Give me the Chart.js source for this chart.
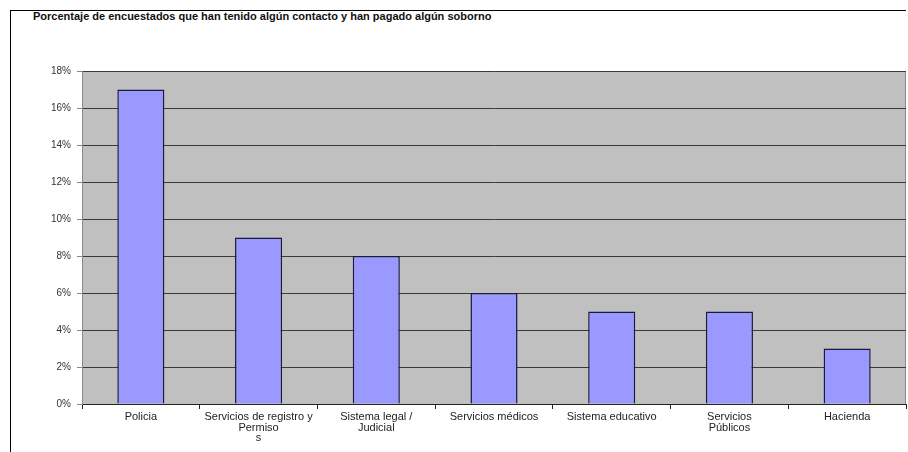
<!DOCTYPE html>
<html>
<head>
<meta charset="utf-8">
<script src="https://cdn.jsdelivr.net/npm/chart.js@4/dist/chart.umd.min.js"></script>
<style>
  html, body { margin: 0; padding: 0; background: #fff; }
  #wrap { position: relative; width: 908px; height: 452px; }
  #frame { position: absolute; left: 10px; top: 10px; right: 2px; bottom: -2px;
           border-left: 1px solid #000; border-top: 1px solid #000; }
  #title { position: absolute; left: 33px; top: 10px; font: bold 11px "Liberation Sans", Arial, sans-serif;
           color: #111; white-space: nowrap; }
  #chartBox { position: absolute; left: 0; top: 0; width: 908px; height: 452px; }
</style>
</head>
<body>
<div id="wrap">
  <div id="frame"></div>
  <div id="title">Porcentaje de encuestados que han tenido algún contacto y han pagado algún soborno</div>
  <div id="chartBox"><canvas id="myChart"></canvas></div>
</div>
<script>
let categorias = [
    'Policia',
    ['Servicios de registro y', 'Permiso', 's'],
    ['Sistema legal /', 'Judicial'],
    'Servicios médicos',
    'Sistema educativo',
    ['Servicios', 'Públicos'],
    'Hacienda'
];
let porcentajes = [17, 9, 8, 6, 5, 5, 3];

// fondo gris del área de trazado
let fondoGris = {
    id: 'fondoGris',
    beforeDraw(chart) {
        let a = chart.chartArea;
        let c = chart.ctx;
        c.save();
        c.fillStyle = '#c0c0c0';
        c.fillRect(a.left, a.top, a.right - a.left, a.bottom - a.top);
        c.strokeStyle = '#8a8a8a';
        c.lineWidth = 1;
        c.beginPath();
        c.moveTo(a.right - 0.5, a.top);
        c.lineTo(a.right - 0.5, a.bottom);
        c.stroke();
        c.restore();
    }
};

let ctx = document.querySelector('#myChart').getContext('2d');
let myChart = new Chart(ctx, {
    type: 'bar',
    data: {
        labels: categorias,
        datasets: [{
            data: porcentajes,
            backgroundColor: '#9999ff',
            borderColor: '#1a1a40',
            borderWidth: 1.5,
            barPercentage: 0.4,
            categoryPercentage: 1
        }]
    },
    plugins: [fondoGris],
    options: {
        responsive: true,
        maintainAspectRatio: false,
        animation: false,
        layout: { padding: { left: 0, top: 71, right: 2, bottom: 0 } },
        plugins: {
            legend: { display: false },
            tooltip: { enabled: false }
        },
        scales: {
            x: {
                offset: true,
                grid: {
                    display: true,
                    offset: true,
                    drawOnChartArea: false,
                    drawTicks: true,
                    tickLength: 5,
                    color: '#222'
                },
                border: { display: true, color: '#222', width: 1 },
                ticks: {
                    color: '#222',
                    font: { family: 'Liberation Sans', size: 11, lineHeight: 0.95 },
                    maxRotation: 0,
                    autoSkip: false,
                    padding: 3
                },
                afterFit(scale) { scale.height = 48; }
            },
            y: {
                min: 0,
                max: 18,
                grid: {
                    color: '#3a3a3a',
                    lineWidth: 1,
                    tickLength: 5,
                    tickColor: '#888'
                },
                border: { display: true, color: '#8a8a8a', width: 1 },
                ticks: {
                    stepSize: 2,
                    color: '#333',
                    padding: 6,
                    font: { family: 'Liberation Sans', size: 10 },
                    callback: v => v + '%'
                },
                afterFit(scale) { scale.width = 82; }
            }
        }
    }
});
</script>
</body>
</html>
